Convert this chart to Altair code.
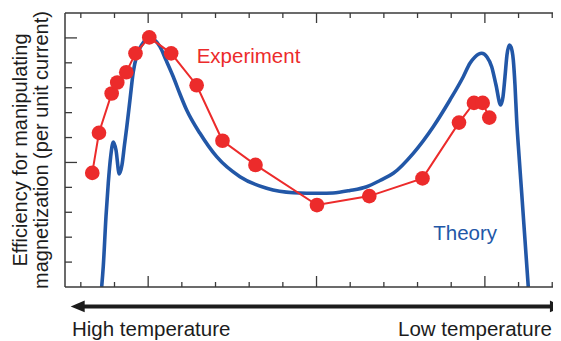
import altair as alt
import pandas as pd

# ---- data (arbitrary units: one minor tick = 1) ----
theory_x = [-1.381, -1.334, -1.253, -1.185, -1.114, -1.037, -0.956, -0.858, -0.778, -0.704,
            -0.639, -0.541, -0.443, -0.333, -0.193, -0.065, 0.053, 0.172, 0.350, 0.529,
            0.745, 0.944, 1.143, 1.538, 2.034, 2.726, 3.519, 4.309, 5.102, 5.489,
            5.993, 6.489, 6.884, 7.280, 7.873, 8.467, 8.963, 9.358, 9.557, 9.706,
            9.905, 10.062, 10.202, 10.330, 10.469, 10.537, 10.597, 10.656, 10.725, 10.775,
            10.844, 10.894, 10.944, 11.013, 11.093, 11.191, 11.289]
theory_y = [0.0, 0.815, 2.822, 4.175, 5.231, 5.821, 5.500, 4.536, 4.898, 5.701,
            6.383, 7.507, 8.631, 9.314, 9.715, 9.936, 9.996, 9.936, 9.647, 9.113,
            8.442, 7.748, 7.106, 6.170, 5.231, 4.428, 3.962, 3.786, 3.762, 3.774,
            3.874, 4.027, 4.275, 4.564, 5.367, 6.435, 7.507, 8.442, 8.980, 9.233,
            9.382, 9.233, 8.844, 8.109, 7.306, 7.627, 8.442, 9.314, 9.715, 9.635,
            9.113, 8.109, 6.704, 5.299, 3.774, 1.887, 0.0]

exp_x = [-1.660, -1.461, -1.084, -0.918, -0.650, -0.377, 0.033, 0.683, 1.440, 2.207,
         3.187, 5.013, 6.567, 8.147, 9.231, 9.676, 9.934, 10.131]
exp_y = [4.58, 6.19, 7.77, 8.21, 8.62, 9.38, 10.02, 9.38, 8.10, 5.87,
         4.90, 3.29, 3.65, 4.36, 6.60, 7.39, 7.39, 6.80]

x_minor_ticks = [-2, -1, 1, 2, 3, 4, 6, 7, 8, 9, 11, 12]
x_major_ticks = [0, 5, 10]
y_minor_ticks = [1, 2, 3, 4, 6, 7, 8, 9]
y_major_ticks = [5, 10]

y_title = ["Efficiency for manipulating", "magnetization (per unit current)"]
series_labels = ["Experiment", "Theory"]
arrow_labels = ["High temperature", "Low temperature"]

RED = "#EC2B2B"
BLUE = "#2257A7"
DARK = "#1c1c1c"
AXC = "#3a3a3a"
FONT = "Liberation Sans"

W, H = 488, 274
xs = alt.Scale(domain=[-2.47, 12.023], nice=False, zero=False)
ys = alt.Scale(domain=[0, 11], nice=False, zero=False)


def X(f="x"):
    return alt.X(f + ":Q", scale=xs, axis=None)


def Y(f="y"):
    return alt.Y(f + ":Q", scale=ys, axis=None)


theory_df = pd.DataFrame({"x": theory_x, "y": theory_y})
exp_df = pd.DataFrame({"x": exp_x, "y": exp_y, "i": list(range(len(exp_x)))})

theory = alt.Chart(theory_df).mark_line(
    color=BLUE, strokeWidth=3.6, interpolate="monotone", clip=True
).encode(x=X(), y=Y())

exp_line = alt.Chart(exp_df).mark_line(color=RED, strokeWidth=2).encode(
    x=X(), y=Y(), order="i:Q")
exp_pts = alt.Chart(exp_df).mark_circle(color=RED, opacity=1, size=215).encode(
    x=X(), y=Y())

# frame (top, bottom, left)
frame_df = pd.DataFrame({"k": [0]})
frame_top = alt.Chart(frame_df).mark_rule(color=AXC, strokeWidth=1.5).encode(
    x=alt.value(0), x2=alt.value(W), y=alt.value(0))
frame_bot = alt.Chart(frame_df).mark_rule(color=AXC, strokeWidth=1.5).encode(
    x=alt.value(0), x2=alt.value(W), y=alt.value(H))
frame_left = alt.Chart(frame_df).mark_rule(color=AXC, strokeWidth=1.5).encode(
    x=alt.value(0), y=alt.value(0), y2=alt.value(H))

xmin_df = pd.DataFrame({"x": x_minor_ticks})
xmaj_df = pd.DataFrame({"x": x_major_ticks})
ymin_df = pd.DataFrame({"y": y_minor_ticks})
ymaj_df = pd.DataFrame({"y": y_major_ticks})

tk = dict(color=AXC, strokeWidth=1.3)
ticks = [
    alt.Chart(xmin_df).mark_rule(**tk).encode(x=X(), y=alt.value(H), y2=alt.value(H - 5)),
    alt.Chart(xmaj_df).mark_rule(**tk).encode(x=X(), y=alt.value(H), y2=alt.value(H - 11)),
    alt.Chart(xmin_df).mark_rule(**tk).encode(x=X(), y=alt.value(0), y2=alt.value(5)),
    alt.Chart(xmaj_df).mark_rule(**tk).encode(x=X(), y=alt.value(0), y2=alt.value(10)),
    alt.Chart(ymin_df).mark_rule(**tk).encode(y=Y(), x=alt.value(0), x2=alt.value(7)),
    alt.Chart(ymaj_df).mark_rule(**tk).encode(y=Y(), x=alt.value(0), x2=alt.value(12)),
]

# arrow below the plot
arrow_df = pd.DataFrame({"x": [-2.05], "x2": [12.1], "y": [-0.78]})
arrow = alt.Chart(arrow_df).mark_rule(color=DARK, strokeWidth=4).encode(
    x=X(), x2="x2:Q", y=Y())
head_l = alt.Chart(pd.DataFrame({"x": [-2.094], "y": [-0.78]})).mark_point(
    shape="M-1,0L1,-0.83L1,0.83Z", filled=True, size=196, color=DARK, opacity=1
).encode(x=X(), y=Y())
head_r = alt.Chart(pd.DataFrame({"x": [12.14], "y": [-0.78]})).mark_point(
    shape="M1,0L-1,-0.83L-1,0.83Z", filled=True, size=196, color=DARK, opacity=1
).encode(x=X(), y=Y())


def label(text, x, y, color, size=20.5, align="left", angle=0):
    df = pd.DataFrame({"x": [x], "y": [y], "t": [text]})
    return alt.Chart(df).mark_text(
        align=align, baseline="alphabetic", fontSize=size, font=FONT,
        color=color, angle=angle
    ).encode(x=X(), y=Y(), text="t:N")


texts = [
    label(series_labels[0], 1.44, 8.98, RED),
    label(series_labels[1], 8.467, 1.887, BLUE),
    label(arrow_labels[0], -2.263, -1.987, DARK),
    label(arrow_labels[1], 11.99, -1.987, DARK, align="right"),
    label(y_title[0], -3.600, 5.5, DARK, size=20, align="center", angle=270),
    label(y_title[1], -2.961, 5.5, DARK, size=20, align="center", angle=270),
]

chart = alt.layer(
    theory, exp_line, exp_pts, frame_top, frame_bot, frame_left, *ticks,
    arrow, head_l, head_r, *texts
).properties(
    width=W, height=H,
    autosize=alt.AutoSizeParams(type="none"),
    padding={"left": 57, "top": 5, "right": 0, "bottom": 54},
).configure_view(stroke=None)

chart.save("out.html", embed_options={"renderer": "svg", "actions": False})
